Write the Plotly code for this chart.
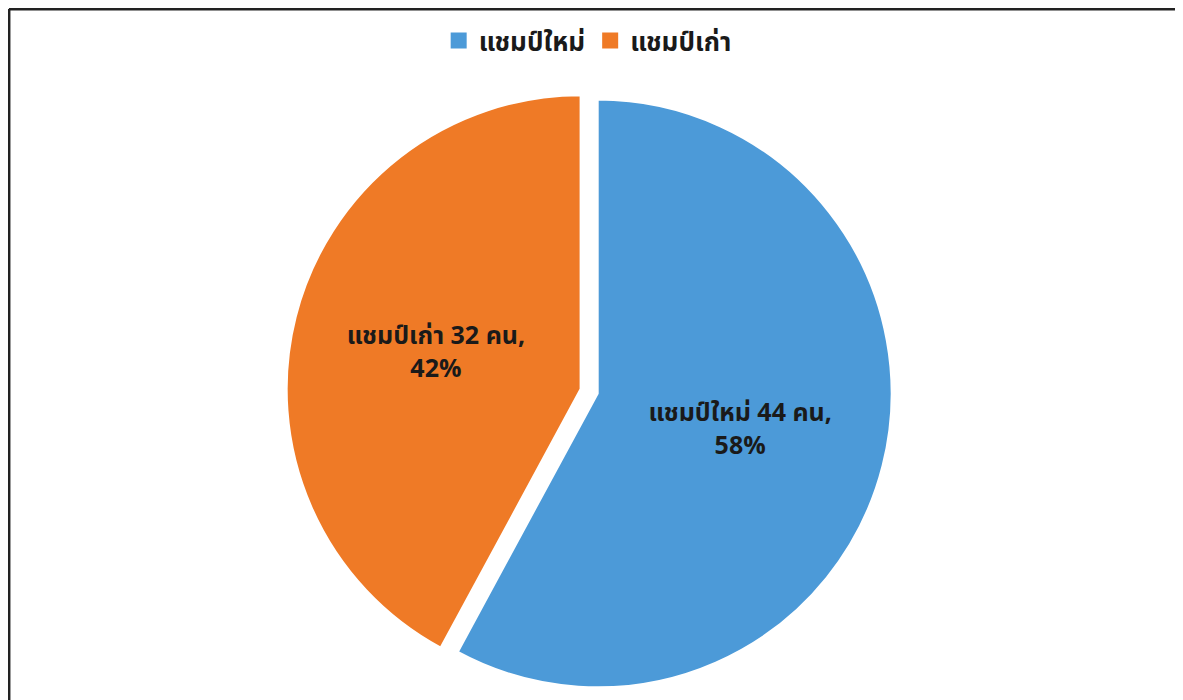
import plotly.graph_objects as go

# data
labels = ["แชมป์ใหม่", "แชมป์เก่า"]
counts = [44, 32]
percents = ["58%", "42%"]
colors = ["#4C9AD8", "#EF7A26"]

slice_text = [f"<b>{l} {c} คน,<br>{p}</b>" for l, c, p in zip(labels, counts, percents)]

fig = go.Figure()

fig.add_trace(go.Pie(
    labels=labels,
    values=counts,
    text=slice_text,
    textinfo="text",
    textposition="inside",
    insidetextorientation="horizontal",
    sort=False,
    direction="clockwise",
    rotation=0,
    pull=[0.03, 0.03],
    marker=dict(colors=colors, line=dict(color="white", width=2)),
    textfont=dict(family="Noto Sans Thai, Noto Sans, sans-serif", size=25, color="#1a1a1a"),
    domain=dict(x=[0.0925, 0.89], y=[0.02, 0.885]),
    showlegend=False,
    hoverinfo="label+value+percent",
))

# legend entries with larger square keys
for name, col in zip(labels, colors):
    fig.add_trace(go.Scatter(
        x=[None], y=[None], mode="markers", name=f"<b>{name}</b>",
        marker=dict(symbol="square", size=16, color=col),
        hoverinfo="skip",
    ))

# frame lines (top and left edges of the cropped picture)
fig.add_shape(type="line", xref="paper", yref="paper",
              x0=0.0008, x1=1, y0=0.9985, y1=0.9985,
              line=dict(color="#222222", width=3))
fig.add_shape(type="line", xref="paper", yref="paper",
              x0=0.0008, x1=0.0008, y0=0, y1=0.9985,
              line=dict(color="#222222", width=3))

fig.update_layout(
    width=1183, height=700,
    margin=dict(l=0, r=0, t=0, b=0),
    paper_bgcolor="white",
    plot_bgcolor="white",
    xaxis=dict(visible=False),
    yaxis=dict(visible=False),
    font=dict(family="Noto Sans Thai, Noto Sans, sans-serif", color="#1a1a1a"),
    showlegend=True,
    legend=dict(orientation="h", x=0.49, xanchor="center", y=0.987, yanchor="top",
                font=dict(size=26), itemwidth=30, traceorder="normal"),
    uniformtext=dict(minsize=25, mode="show"),
)

fig.write_html("out.html")
